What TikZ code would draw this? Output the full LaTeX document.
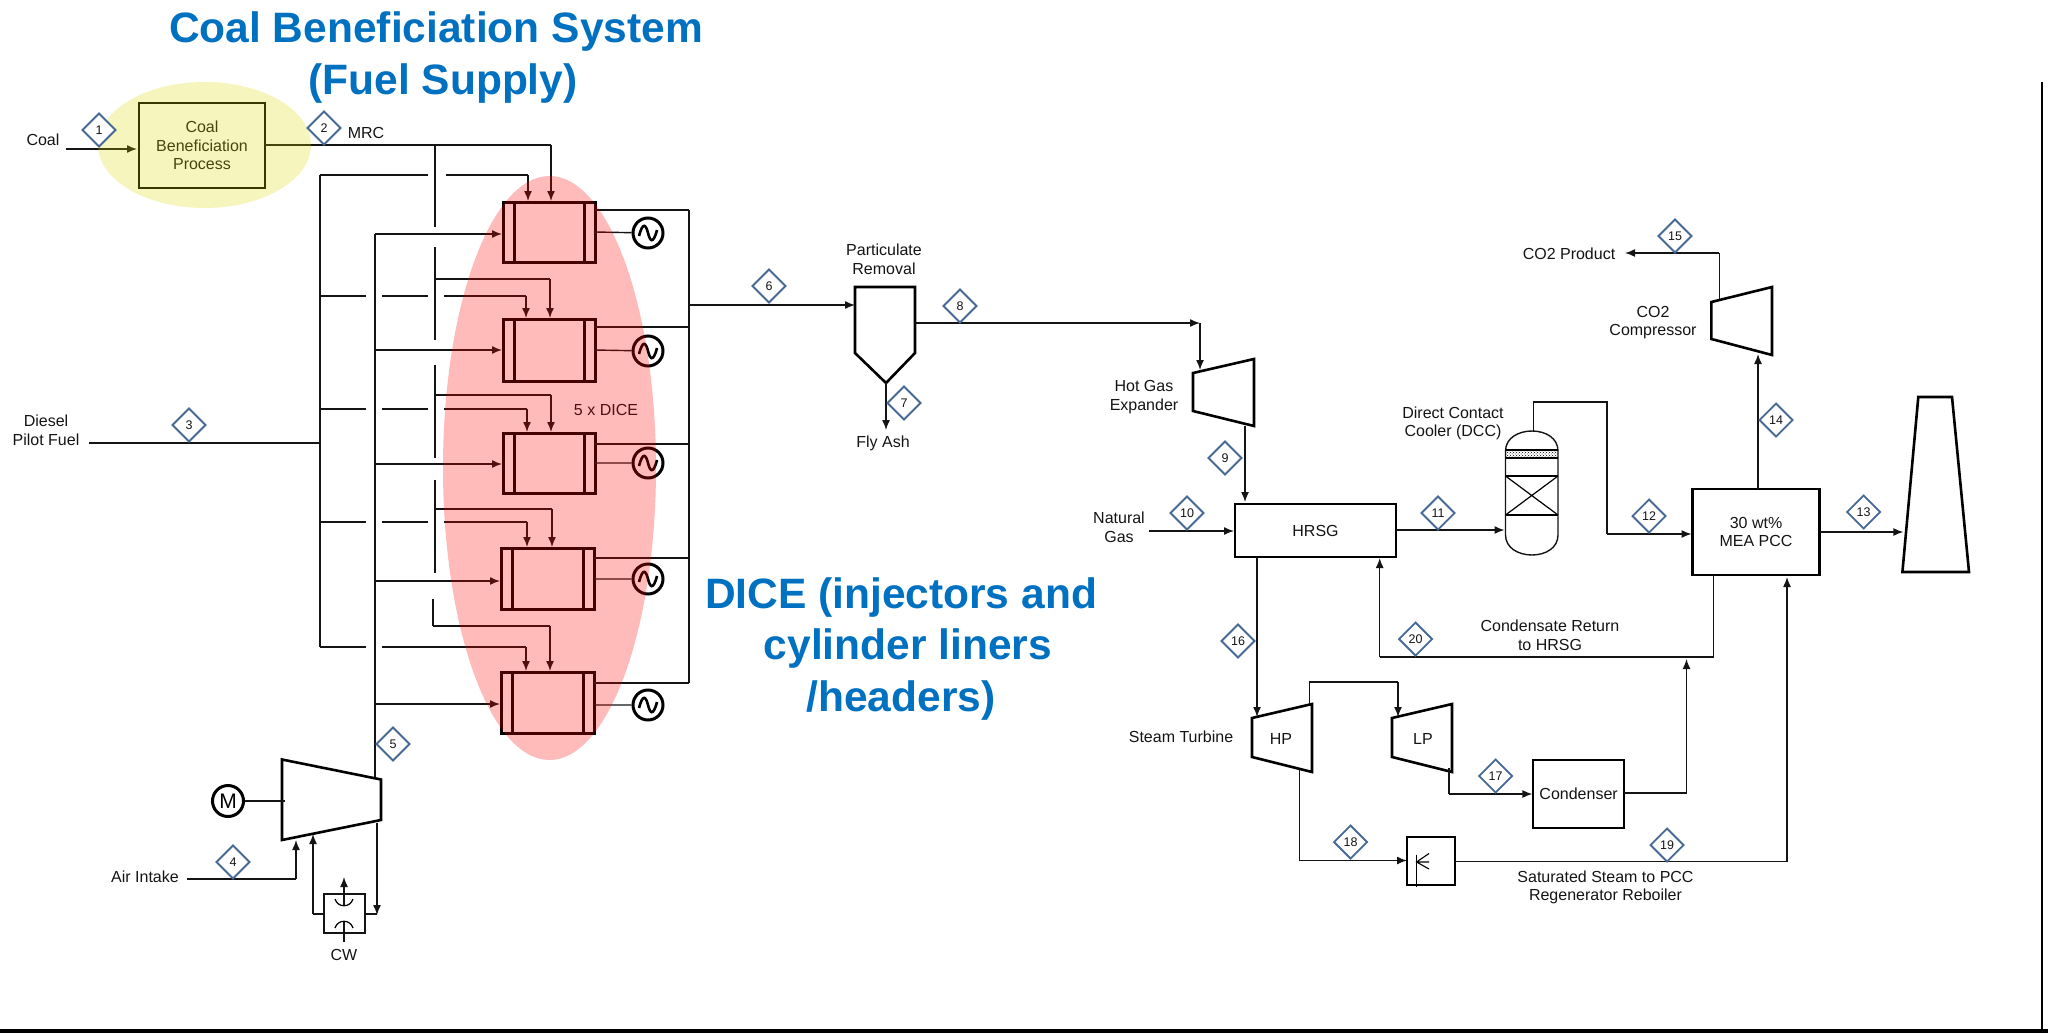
\documentclass[tikz,border=0pt]{standalone}
\usepackage{fontspec}
\setmainfont{Liberation Sans}
\definecolor{dblue}{RGB}{70,105,150}
\definecolor{ttl}{RGB}{0,112,192}
\definecolor{ln}{RGB}{20,20,20}
\usetikzlibrary{arrows.meta,patterns}
\tikzset{
  lbl/.style={font=\fontsize{16}{18.6}\selectfont,align=center,inner sep=0pt,text=ln},
  ttlt/.style={font=\fontsize{42.5}{51.5}\selectfont\bfseries,align=center,inner sep=0pt,text=ttl},
  pipe/.style={draw=ln,line width=1.4pt},
  flow/.style={draw=ln,line width=1.4pt,-{Latex[length=10pt,width=8pt]}},
  unitb/.style={draw=black,line width=2.6pt},
  genr/.style={draw=black,line width=3pt,fill=none,minimum size=30pt,inner sep=0pt,circle},
}
\newcommand{\dm}[3]{\draw[draw=dblue,line width=1.8pt,fill=white] (#1-16.5,#2) -- (#1,#2-16.5) -- (#1+16.5,#2) -- (#1,#2+16.5) -- cycle; \node[lbl,font=\fontsize{12.5}{13}\selectfont] (d#3) at (#1,#2) {#3};}
\newcommand{\engine}[6]{% name x0 x1 y0 y1 yc
  \draw[unitb,line width=3pt] (#2,#4) rectangle (#3,#5);
  \draw[line width=3pt] (#2+11,#4) -- (#2+11,#5) (#3-11,#4) -- (#3-11,#5);
  \coordinate (#1L) at (#2,#6); \coordinate (#1R) at (#3,#6);}
\newcommand{\gen}[3]{% name cx cy
  \node[genr] (#1) at (#2,#3) {};
  \draw[line width=2.6pt] (#2-9,#3+3) .. controls (#2-5,#3-12) and (#2-2,#3-8) .. (#2,#3) .. controls (#2+2,#3+8) and (#2+5,#3+12) .. (#2+9,#3-3);}
\begin{document}
\begin{tikzpicture}[x=1pt,y=-1pt]
\useasboundingbox (0,0) rectangle (2048,1033);
% frame
\fill[black] (0,1029) rectangle (2048,1033);
\draw[line width=2.5pt,black] (2042,82) -- (2042,1030);
% titles
\node[ttlt] (t1) at (436,57.5) {Coal Beneficiation System\\\hspace*{14pt}(Fuel Supply)};
\node[ttlt] (t2) at (901,649) {DICE (injectors and\\\hspace*{14pt}cylinder liners\\/headers)};
% coal block
\node[draw=black,line width=2.6pt,minimum width=126pt,minimum height=85pt,inner sep=0pt,lbl] (coalbox) at (202,145.5) {Coal\\Beneficiation\\Process};
\node[lbl] (coal) at (43,140) {Coal};
\coordinate (c1) at (66,149);
\draw[flow] (c1) -- (137,149);
% MRC header
\draw[pipe] (265,145) -- (551,145);
\draw[flow] (551,145) -- (551,201);
\draw[pipe] (435,145) -- (435,227);
\draw[pipe] (435,247) -- (435,340);
\draw[pipe] (435,365) -- (435,458);
\draw[pipe] (435,480) -- (435,573);
\draw[pipe] (433,599) -- (433,626);
\draw[pipe] (435,279) -- (550,279); \draw[flow] (550,279) -- (550,318);
\draw[pipe] (435,395) -- (551,395); \draw[flow] (551,395) -- (551,432);
\draw[pipe] (435,509) -- (552,509); \draw[flow] (552,509) -- (552,547);
\draw[pipe] (433,626) -- (550,626); \draw[flow] (550,626) -- (550,671);
% diesel header
\draw[pipe] (89,443) -- (320,443);
\draw[pipe] (320,175) -- (320,647);
\draw[pipe] (320,175) -- (428,175) (446,175) -- (528,175); \draw[flow] (528,175) -- (528,201);
\draw[pipe] (320,296) -- (366,296) (382,296) -- (428,296) (444,296) -- (526,296); \draw[flow] (526,296) -- (526,318);
\draw[pipe] (320,409) -- (366,409) (382,409) -- (428,409) (444,409) -- (527,409); \draw[flow] (527,409) -- (527,432);
\draw[pipe] (320,522) -- (366,522) (382,522) -- (428,522) (444,522) -- (527,522); \draw[flow] (527,522) -- (527,547);
\draw[pipe] (320,647) -- (366,647) (382,647) -- (526,647); \draw[flow] (526,647) -- (526,671);
% air header
\draw[pipe] (375,234) -- (375,777);
\draw[flow] (375,234) -- (502,234);
\draw[flow] (375,350) -- (502,350);
\draw[flow] (375,464) -- (502,464);
\draw[flow] (375,581) -- (500,581);
\draw[flow] (375,704) -- (500,704);
% engines
\engine{ea}{503}{595}{202}{262}{232}
\engine{eb}{503}{595}{319}{381}{350}
\engine{ec}{503}{595}{433}{493}{463}
\engine{ed}{501}{594}{548}{609}{579}
\engine{ee}{501}{594}{672}{733}{705}
% generators
\gen{ga}{648}{233} \gen{gb}{648}{351} \gen{gc}{648}{463} \gen{gd}{648}{579} \gen{ge}{648}{705}
\draw[pipe] (eaR) -- (ga) (ebR) -- (gb) (ecR) -- (gc) (edR) -- (gd) (eeR) -- (ge);
% exhaust
\draw[pipe] (689,210) -- (689,683);
\draw[pipe] (595,210) -- (689,210) (595,327) -- (689,327) (595,444) -- (689,444) (594,558) -- (689,558) (594,683) -- (689,683);
\node[lbl] (dice5) at (606,410) {5 x DICE};
% highlight ellipses
\fill[red,fill opacity=.27] (549.5,468) ellipse [x radius=106.5,y radius=292];
\fill[fill={rgb,255:red,220;green,216;blue,0},fill opacity=.255] (204.5,145) ellipse [x radius=106.5,y radius=63];
% compressor
\draw[unitb] (282,759.5) -- (381,779.5) -- (381,820) -- (282,840) -- cycle;
\node[circle,draw=black,line width=3pt,minimum size=31pt,inner sep=0pt,font=\fontsize{21}{21}\selectfont] (motor) at (228,801) {M};
\draw[pipe] (motor) -- (285,801);
\node[lbl] (air) at (145,876.5) {Air Intake};
\draw[pipe] (187,879) -- (296,879);
\draw[flow] (296,879) -- (296,840);
% intercooler
\node[draw=ln,line width=1.6pt,minimum width=41pt,minimum height=39pt,inner sep=0pt] (cool) at (344.5,913.5) {};
\draw[pipe] (323,914) -- (313,914);
\draw[flow] (313,914) -- (313,834);
\draw[pipe] (365,914) -- (377,914);
\draw[flow] (377,823) -- (377,915);
\coordinate (cu) at (344,905);
\draw[flow] (cu) -- (344,877);
\draw[line width=1.2pt] (335,899) .. controls (338,908) and (350,908) .. (353,899);
\coordinate (cb) at (344,942);
\draw[pipe] (cb) -- (344,921);
\draw[line width=1.2pt] (335,928) .. controls (338,919) and (350,919) .. (353,928);
\node[lbl] (cw) at (344,955) {CW};
% particulate
\draw[unitb] (855,287) -- (915,287) -- (915,353) -- (886,383) -- (855,353) -- cycle;
\node[lbl] (prem) at (884,259) {Particulate\\Removal};
\draw[pipe] (689,305) -- (800,305); \draw[flow] (800,305) -- (855,305);
\coordinate (pout) at (915,323);
\draw[flow] (pout) -- (1200,323);
\draw[flow] (1200,323) -- (1200,370);
\draw[flow] (886,383) -- (886,430);
\node[lbl] (fly) at (883,443) {Fly Ash};
% expander
\draw[unitb] (1193,373) -- (1254,359) -- (1254,426) -- (1193,411) -- cycle;
\node[lbl] (hge) at (1144,397) {Hot Gas\\Expander};
\draw[flow] (1245,426) -- (1245,502);
% HRSG
\node[draw=black,line width=2.6pt,minimum width=161pt,minimum height=53pt,inner sep=0pt,lbl] (hrsg) at (1315.5,530.5) {HRSG};
\node[lbl] (ng) at (1119,527.5) {Natural\\Gas};
\draw[flow] (1149,531) -- (1234,531);
\draw[flow] (1396,530) -- (1504.5,530);
% DCC
\draw[line width=1.4pt,draw=ln] (1505.5,451) .. controls (1505.5,438) and (1518.5,431) .. (1532,431) .. controls (1545.5,431) and (1558,438) .. (1558,451) -- (1558,535) .. controls (1558,548) and (1545.5,555) .. (1532,555) .. controls (1518.5,555) and (1505.5,548) .. (1505.5,535) -- cycle;
\fill[pattern=crosshatch dots,pattern color=black] (1505.5,450) rectangle (1558,458);
\draw[line width=1.6pt] (1505.5,450) -- (1558,450) (1505.5,458) -- (1558,458);
\draw[line width=1.4pt] (1505.5,476) -- (1558,476) (1505.5,515) -- (1558,515);
\draw[line width=1.2pt] (1505.5,476) -- (1558,515) (1558,476) -- (1505.5,515);
\node[lbl] (dccl) at (1453,423.5) {Direct Contact\\Cooler (DCC)};
\draw[pipe] (1533.4,431) -- (1533.4,402) -- (1607,402) -- (1607,534);
\draw[flow] (1607,534) -- (1691.5,534);
% MEA
\node[draw=black,line width=2.6pt,minimum width=127pt,minimum height=86pt,inner sep=0pt,lbl] (mea) at (1756,532) {30 wt\%\\MEA PCC};
\draw[flow] (1820,532) -- (1903.4,532);
\draw[unitb] (1918.3,397) -- (1952,397) -- (1969,572) -- (1902.4,572) -- cycle;
\draw[flow] (1758,489) -- (1758,354);
% CO2 compressor
\draw[unitb] (1711.4,302) -- (1772,287) -- (1772,355) -- (1711.4,339) -- cycle;
\node[lbl] (co2c) at (1653,322.5) {CO2\\Compressor};
\draw[pipe] (1719.4,299) -- (1719.4,253);
\draw[flow] (1719.4,253) -- (1625,253);
\node[lbl] (co2p) at (1569,254) {CO2 Product};
% HP LP
\draw[flow] (1257,557) -- (1257,717);
\draw[unitb] (1252,718) -- (1312,704) -- (1312,772) -- (1252,757) -- cycle;
\draw[unitb] (1392,718) -- (1452,704) -- (1452,772) -- (1392,757) -- cycle;
\node[lbl] (hp) at (1281,739) {HP};
\node[lbl] (lp) at (1423,739) {LP};
\node[lbl] (st) at (1181,737) {Steam Turbine};
\draw[pipe] (1309.6,704) -- (1309.6,682) -- (1398,682);
\draw[flow] (1398,682) -- (1398,717);
\draw[pipe] (1449,768) -- (1449,794);
\draw[flow] (1449,794) -- (1532.4,794);
\node[draw=black,line width=2.6pt,minimum width=91pt,minimum height=68pt,inner sep=0pt,lbl] (cond) at (1578.6,794) {\raisebox{1.5pt}{Condenser}};
\draw[pipe] (1624,793) -- (1686.5,793);
\draw[flow] (1686.5,793) -- (1686.5,659);
% condensate
\draw[pipe] (1713.4,575) -- (1713.4,657) -- (1379.7,657);
\draw[flow] (1379.7,657) -- (1379.7,558);
\node[lbl] (condl) at (1550,635) {Condensate Return\\to HRSG};
% let-down
\draw[pipe] (1299.6,770) -- (1299.6,860.5);
\draw[flow] (1299.6,860.5) -- (1407,860.5);
\node[draw=black,line width=2pt,minimum width=48pt,minimum height=48pt,inner sep=0pt] (desup) at (1431,861) {};
\draw[line width=1.1pt] (1416.5,854.5) -- (1416.5,887);
\draw[line width=1.1pt] (1429,853.5) -- (1416.5,862) -- (1429,869) (1416.5,862) -- (1429,862);
\draw[pipe] (1455,861.5) -- (1787,861.5);
\draw[flow] (1787,861.5) -- (1787,577);
\node[lbl] (satl) at (1605.5,887.5) {Saturated Steam to PCC\\Regenerator Reboiler};
% stream tags
\dm{99}{130}{1} \dm{324}{128}{2} \dm{189}{425}{3} \dm{233}{862}{4} \dm{393}{744}{5}
\dm{769}{286}{6} \dm{904}{403}{7} \dm{960}{306}{8} \dm{1225}{458}{9} \dm{1187}{513}{10}
\dm{1438}{513}{11} \dm{1649}{516}{12} \dm{1863.6}{512}{13} \dm{1776}{420}{14} \dm{1675}{236}{15}
\dm{1238}{641}{16} \dm{1495.6}{776}{17} \dm{1350.5}{842}{18} \dm{1667}{845}{19} \dm{1415.5}{639}{20}
\node[lbl] (mrc) at (366,133) {MRC};
\node[lbl] (dsl) at (46,430.5) {Diesel\\Pilot Fuel};
\end{tikzpicture}
\end{document}
